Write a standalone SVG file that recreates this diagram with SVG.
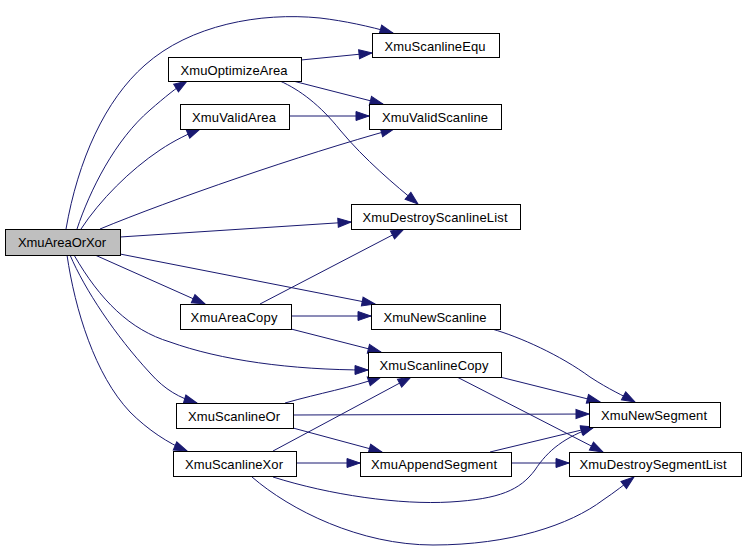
<svg xmlns="http://www.w3.org/2000/svg" width="746" height="555" viewBox="0 0 746 555">
<defs>
<style>
.n rect{fill:#fff;stroke:#000;stroke-width:1}
.n.root rect{fill:#bfbfbf}
.n text{font-family:"Liberation Sans",Arial,sans-serif;font-size:13px;fill:#000;text-anchor:middle}
.e path{fill:none;stroke:#191970;stroke-width:1;marker-end:url(#arr)}
</style>
<marker id="arr" markerUnits="userSpaceOnUse" markerWidth="14" markerHeight="10" refX="13" refY="4.5" orient="auto" overflow="visible">
<path d="M0,0 L13,4.5 L0,9 z" fill="#191970" stroke="#191970" stroke-width="1"/>
</marker>
</defs>
<rect width="746" height="555" fill="#fff"/>
<g id="edges" class="e">
<path d="M66,229 C78,160 105,100 145,65 C190,25 260,12 320,18 C345,21 368,26 393,33"/>
<path d="M77,229 C90,190 115,140 150,110 C165,97 176,88 187,81"/>
<path d="M81,229 C100,200 130,170 160,150 C175,140 188,134 200,129"/>
<path d="M100,229 C170,200 300,155 394,129"/>
<path d="M120,237 L351,222"/>
<path d="M120,254 L375,304"/>
<path d="M95,255 L205,304"/>
<path d="M74,255 C100,300 130,330 170,342 C220,360 290,370 368,370"/>
<path d="M70,255 C85,290 115,335 150,373 C165,390 180,398 197,403"/>
<path d="M67,255 C75,310 95,375 130,412 C148,430 168,443 187,451"/>
<path d="M301,60 L372,53"/>
<path d="M293,81 L383,104"/>
<path d="M280,81 C300,90 320,105 340,130 C365,160 395,185 418,204"/>
<path d="M289,116 L369,116"/>
<path d="M260,304 L404,229"/>
<path d="M291,316 L371,316"/>
<path d="M291,329 L381,352"/>
<path d="M492,329 C520,337 560,355 590,377 C610,390 622,395 635,402"/>
<path d="M500,377 L600,402"/>
<path d="M457,377 L603,452"/>
<path d="M285,403 C320,393 350,388 381,377"/>
<path d="M293,415 L589,414"/>
<path d="M293,428 L382,452"/>
<path d="M273,451 L411,377"/>
<path d="M296,463 L360,463"/>
<path d="M273,477 C330,495 400,505 450,502 C500,499 520,490 535,470 C548,450 565,437 594,427"/>
<path d="M252,477 C290,510 360,545 433,545 C510,545 570,525 603,500 C615,492 625,484 634,477"/>
<path d="M490,452 L594,427"/>
<path d="M511,463 L569,463"/>
</g>
<g id="XmuAreaOrXor" class="n root"><rect x="5.5" y="229.5" width="115" height="26"/><text x="62" y="247" textLength="88" lengthAdjust="spacing">XmuAreaOrXor</text></g>
<g id="XmuOptimizeArea" class="n"><rect x="168.5" y="57.5" width="133" height="24"/><text x="234" y="75" textLength="107" lengthAdjust="spacing">XmuOptimizeArea</text></g>
<g id="XmuValidArea" class="n"><rect x="180.5" y="104.5" width="109" height="25"/><text x="234" y="122" textLength="84" lengthAdjust="spacing">XmuValidArea</text></g>
<g id="XmuScanlineEqu" class="n"><rect x="372.5" y="33.5" width="127" height="24"/><text x="435" y="51" textLength="101" lengthAdjust="spacing">XmuScanlineEqu</text></g>
<g id="XmuValidScanline" class="n"><rect x="369.5" y="104.5" width="132" height="25"/><text x="435" y="122" textLength="106" lengthAdjust="spacing">XmuValidScanline</text></g>
<g id="XmuDestroyScanlineList" class="n"><rect x="351.5" y="204.5" width="169" height="25"/><text x="435" y="222" textLength="145" lengthAdjust="spacing">XmuDestroyScanlineList</text></g>
<g id="XmuAreaCopy" class="n"><rect x="180.5" y="304.5" width="111" height="25"/><text x="234" y="322" textLength="87" lengthAdjust="spacing">XmuAreaCopy</text></g>
<g id="XmuNewScanline" class="n"><rect x="371.5" y="304.5" width="129" height="25"/><text x="435" y="322" textLength="103" lengthAdjust="spacing">XmuNewScanline</text></g>
<g id="XmuScanlineCopy" class="n"><rect x="368.5" y="352.5" width="133" height="25"/><text x="434" y="370" textLength="109" lengthAdjust="spacing">XmuScanlineCopy</text></g>
<g id="XmuScanlineOr" class="n"><rect x="176.5" y="403.5" width="117" height="25"/><text x="234" y="421" textLength="92" lengthAdjust="spacing">XmuScanlineOr</text></g>
<g id="XmuScanlineXor" class="n"><rect x="173.5" y="451.5" width="123" height="25"/><text x="234" y="469" textLength="98" lengthAdjust="spacing">XmuScanlineXor</text></g>
<g id="XmuNewSegment" class="n"><rect x="589.5" y="402.5" width="131" height="25"/><text x="654" y="420" textLength="106" lengthAdjust="spacing">XmuNewSegment</text></g>
<g id="XmuAppendSegment" class="n"><rect x="360.5" y="452.5" width="151" height="24"/><text x="434" y="469" textLength="126" lengthAdjust="spacing">XmuAppendSegment</text></g>
<g id="XmuDestroySegmentList" class="n"><rect x="569.5" y="452.5" width="172" height="24"/><text x="653" y="469" textLength="147" lengthAdjust="spacing">XmuDestroySegmentList</text></g>
</svg>
